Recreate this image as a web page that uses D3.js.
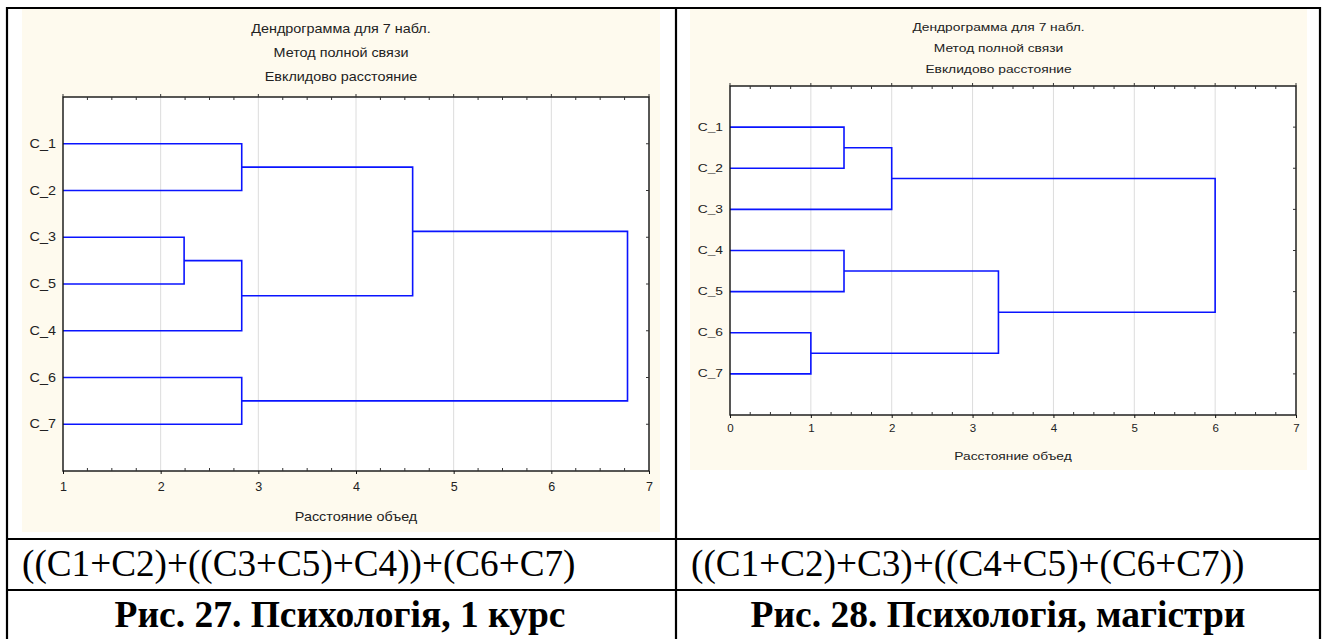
<!DOCTYPE html>
<html><head><meta charset="utf-8">
<script src="https://cdn.jsdelivr.net/npm/d3@7"></script>
<style>body{margin:0;background:#fff}svg{display:block}</style>
</head><body>
<svg id="c" width="1324" height="639"></svg>
<script>
// ---------- data ----------
const titleLines = ["Дендрограмма для 7 набл.", "Метод полной связи", "Евклидово расстояние"];
const axisTitle = "Расстояние объед";

const leavesA = ["C_1", "C_2", "C_3", "C_5", "C_4", "C_6", "C_7"];
// merges: [child a, child b, linkage distance]; indices 0..6 are leaves, 7.. are clusters
const mergesA = [[0, 1, 2.83], [2, 3, 2.24], [8, 4, 2.83], [5, 6, 2.83], [7, 9, 4.58], [11, 10, 6.78]];
const domainA = [1, 7];
const ticksA = [1, 2, 3, 4, 5, 6, 7];

const leavesB = ["C_1", "C_2", "C_3", "C_4", "C_5", "C_6", "C_7"];
const mergesB = [[0, 1, 1.41], [7, 2, 2.0], [3, 4, 1.41], [5, 6, 1.0], [9, 10, 3.32], [8, 11, 6.0]];
const domainB = [0, 7];
const ticksB = [0, 1, 2, 3, 4, 5, 6, 7];

const formulas = ["((C1+C2)+((C3+C5)+C4))+(C6+C7)", "((C1+C2)+C3)+((C4+C5)+(C6+C7))"];
const captions = ["Рис. 27. Психологія, 1 курс", "Рис. 28. Психологія, магістри"];

// ---------- drawing ----------
const svg = d3.select("#c");
const SANS = "'Liberation Sans', Arial, sans-serif";
const SERIF = "'Liberation Serif', 'Times New Roman', serif";

function label(g, x, y, txt, anchor, cfg) {
  g.append("text").attr("transform", `translate(${x},${y}) scale(${cfg.sx},1)`)
    .attr("text-anchor", anchor).attr("dominant-baseline", "central")
    .attr("font-family", SANS).attr("font-size", cfg.fs).attr("fill", "#222").text(txt);
}

function dendro(cfg) {
  const g = svg.append("g");
  g.append("rect").attr("x", cfg.bg[0]).attr("y", cfg.bg[1])
    .attr("width", cfg.bg[2] - cfg.bg[0]).attr("height", cfg.bg[3] - cfg.bg[1])
    .attr("fill", "#fefaee");
  const [L, T, R, B] = cfg.plot;
  g.append("rect").attr("x", L).attr("y", T).attr("width", R - L).attr("height", B - T).attr("fill", "#fff");

  const x = d3.scaleLinear().domain(cfg.domain).range([L, R]);
  const y = d3.scalePoint().domain(cfg.leaves).range([T, B]).padding(1);

  // grid
  g.append("g").selectAll("line").data(cfg.ticks.slice(1, -1)).join("line")
    .attr("x1", d => x(d)).attr("x2", d => x(d)).attr("y1", T).attr("y2", B)
    .attr("stroke", "#dcdcdc").attr("stroke-width", 1);

  // titles
  const cx = (cfg.bg[0] + cfg.bg[2]) / 2;
  titleLines.forEach((t, i) => label(g, cx, cfg.titleY[i], t, "middle", cfg));

  // dendrogram links
  const nodes = cfg.leaves.map(n => ({ x: cfg.domain[0], y: y(n) }));
  const paths = [];
  cfg.merges.forEach(([a, b, h]) => {
    const na = nodes[a], nb = nodes[b];
    paths.push(`M${x(na.x)},${na.y}H${x(h)}V${nb.y}H${x(nb.x)}`);
    nodes.push({ x: h, y: (na.y + nb.y) / 2 });
  });
  g.append("g").selectAll("path").data(paths).join("path")
    .attr("d", d => d).attr("fill", "none").attr("stroke", "#0a14ff").attr("stroke-width", 1.6);

  // frame
  g.append("rect").attr("x", L).attr("y", T).attr("width", R - L).attr("height", B - T)
    .attr("fill", "none").attr("stroke", "#111").attr("stroke-width", 1.4);

  // minor / major ticks
  const minor = d3.range(cfg.domain[0], cfg.domain[1] + 1e-9, 0.25).filter(v => Math.abs(v - Math.round(v)) > 1e-6);
  const tk = g.append("g").attr("stroke", "#333").attr("stroke-width", 1);
  tk.selectAll("line.mb").data(minor).join("line").attr("class", "mb")
    .attr("x1", d => x(d)).attr("x2", d => x(d)).attr("y1", B).attr("y2", B - 3);
  tk.selectAll("line.mt").data(minor).join("line").attr("class", "mt")
    .attr("x1", d => x(d)).attr("x2", d => x(d)).attr("y1", T).attr("y2", T + 3);
  tk.selectAll("line.Mt").data(cfg.ticks).join("line").attr("class", "Mt")
    .attr("x1", d => x(d)).attr("x2", d => x(d)).attr("y1", T).attr("y2", T - 3);
  tk.selectAll("line.r").data(cfg.leaves).join("line").attr("class", "r")
    .attr("x1", R).attr("x2", R - 3).attr("y1", d => y(d)).attr("y2", d => y(d));

  // bottom axis via d3
  const ax = g.append("g").attr("transform", `translate(0,${B})`)
    .call(d3.axisBottom(x).tickValues(cfg.ticks).tickSize(3).tickPadding(cfg.tickPad).tickFormat(d3.format("d")));
  ax.select(".domain").remove();
  ax.selectAll("line").attr("stroke", "#111");
  ax.selectAll("text").attr("font-family", SANS).attr("font-size", cfg.fs).attr("fill", "#222");

  // left labels
  cfg.leaves.forEach(d => label(g, L - 7, y(d), d, "end", cfg));

  label(g, (L + R) / 2, cfg.axisTitleY, axisTitle, "middle", cfg);
}

dendro({
  bg: [22, 9, 660, 532], plot: [63, 97, 649, 471],
  leaves: leavesA, merges: mergesA, domain: domainA, ticks: ticksA,
  titleY: [29, 53, 77], axisTitleY: 517, tickPad: 8, fs: 12.5, sx: 1.15
});
dendro({
  bg: [690, 9, 1307, 470], plot: [730, 86, 1296, 415],
  leaves: leavesB, merges: mergesB, domain: domainB, ticks: ticksB,
  titleY: [27, 48, 69], axisTitleY: 456, tickPad: 6, fs: 11.5, sx: 1.2
});

// table text
svg.append("g").selectAll("text").data(formulas).join("text")
  .attr("x", (d, i) => [22, 691][i]).attr("y", 576)
  .attr("font-family", SERIF).attr("font-size", 37.2).attr("fill", "#000").text(d => d);
svg.append("g").selectAll("text").data(captions).join("text")
  .attr("x", (d, i) => [340, 998][i]).attr("y", 627).attr("text-anchor", "middle")
  .attr("font-family", SERIF).attr("font-weight", "bold").attr("font-size", 37.5).attr("fill", "#000").text(d => d);

// table borders
const bl = svg.append("g").attr("stroke", "#000").attr("stroke-width", 2.2);
[[6, 8, 1321, 8], [7, 7, 7, 639], [676, 7, 676, 639], [1320, 7, 1320, 639], [6, 539, 1321, 539], [6, 590, 1321, 590]]
  .forEach(([x1, y1, x2, y2]) => bl.append("line").attr("x1", x1).attr("y1", y1).attr("x2", x2).attr("y2", y2));
</script>
</body></html>
